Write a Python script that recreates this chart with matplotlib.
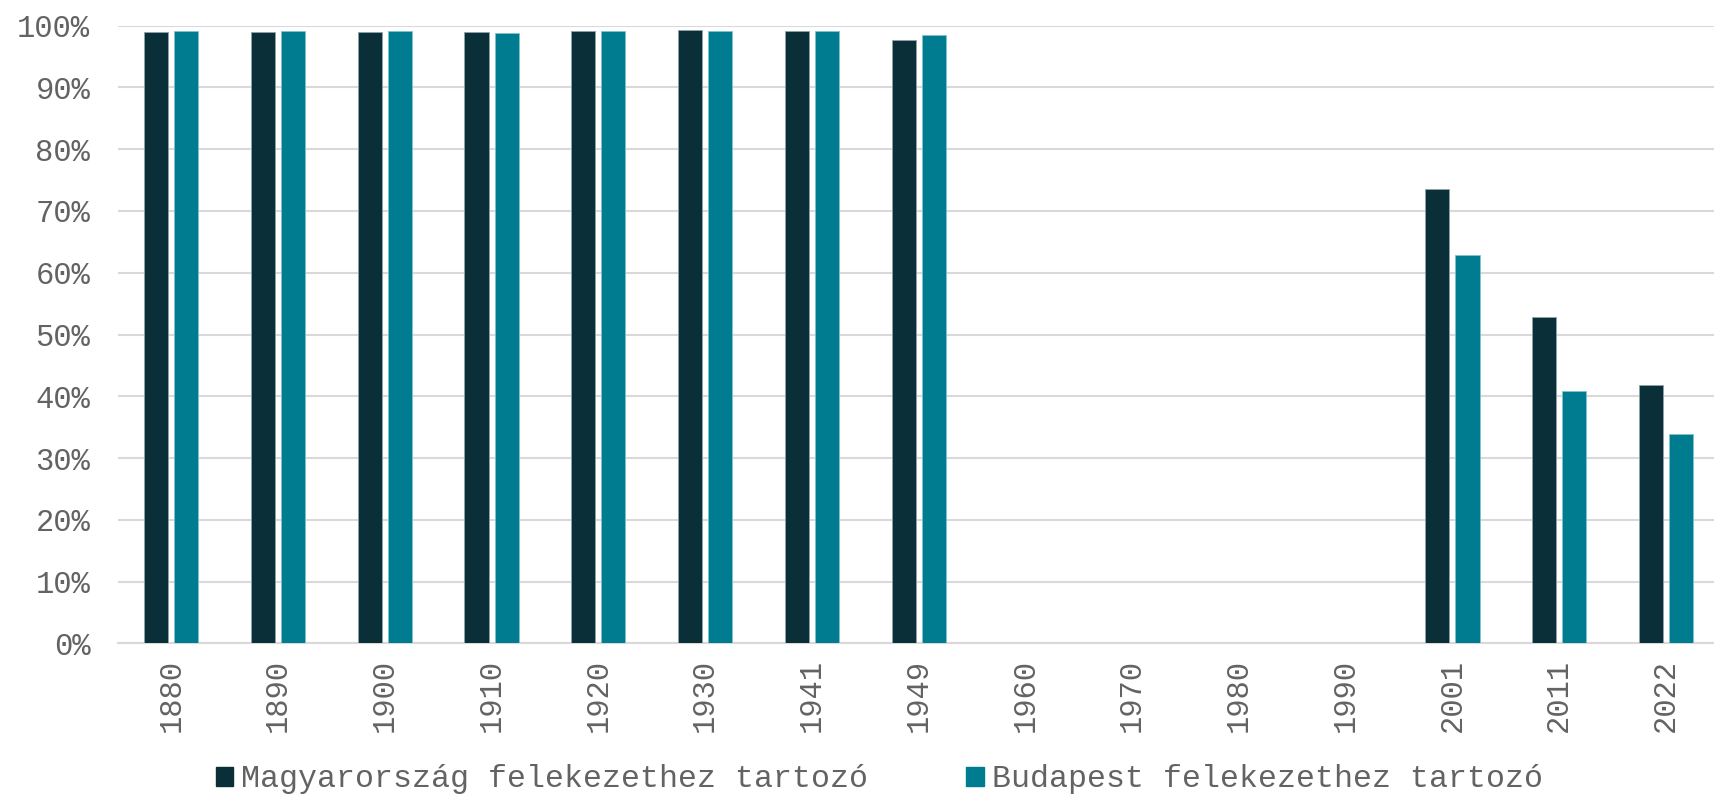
import numpy as np
import matplotlib
matplotlib.use('Agg')
import matplotlib.pyplot as plt
from matplotlib.patches import Patch
from matplotlib.ticker import PercentFormatter

# data (share of population belonging to a denomination)
years = ['1880', '1890', '1900', '1910', '1920', '1930', '1941', '1949',
         '1960', '1970', '1980', '1990', '2001', '2011', '2022']
hungary = [99.0, 99.0, 99.0, 99.0, 99.1, 99.3, 99.2, 97.7,
           None, None, None, None, 73.6, 52.9, 41.8]
budapest = [99.1, 99.2, 99.1, 98.8, 99.1, 99.1, 99.1, 98.5,
            None, None, None, None, 62.9, 40.8, 33.9]
labels = ['Magyarország felekezethez tartozó', 'Budapest felekezethez tartozó']

dark = '#0A2F38'
teal = '#007C91'
grey = '#636363'
gridc = '#D9D9D9'

plt.rcParams['font.family'] = ['Liberation Mono', 'DejaVu Sans']

fig = plt.figure(figsize=(17.14, 7.96), dpi=100)
ax = fig.add_axes([0.0688, 0.1918, 0.9312, 0.7759])

x = np.arange(len(years))
h = np.array([np.nan if v is None else v for v in hungary])
b = np.array([np.nan if v is None else v for v in budapest])
w = 0.226
ax.bar(x - 0.141, h, w, color=dark, edgecolor='#8FA3A8', linewidth=0.6, zorder=3)
ax.bar(x + 0.141, b, w, color=teal, edgecolor='#7FC3CF', linewidth=0.6, zorder=3)

ax.set_xlim(-0.5, len(years) - 0.55)
ax.set_ylim(0, 100)
ax.set_yticks(np.arange(0, 101, 10))
ax.yaxis.set_major_formatter(PercentFormatter(decimals=0))
ax.set_xticks(x)
ax.set_xticklabels(years, rotation=90)
ax.tick_params(axis='both', length=0, labelsize=22, labelcolor=grey)
ax.tick_params(axis='y', pad=20)
ax.tick_params(axis='x', pad=11)

ax.grid(axis='y', color=gridc, linewidth=1.5, zorder=0)
for s in ['top', 'right', 'left']:
    ax.spines[s].set_visible(False)
ax.spines['bottom'].set_color(gridc)
ax.spines['bottom'].set_linewidth(1.5)

handles = [Patch(color=dark), Patch(color=teal)]
fig.legend(handles, labels, loc='center', bbox_to_anchor=(0.513, 0.021), ncol=2,
           frameon=False, fontsize=22.8, labelcolor=grey, handlelength=0.55,
           handleheight=0.55, handletextpad=0.26, columnspacing=3.1,
           borderpad=0.1)

fig.savefig('out.png', dpi=100)
